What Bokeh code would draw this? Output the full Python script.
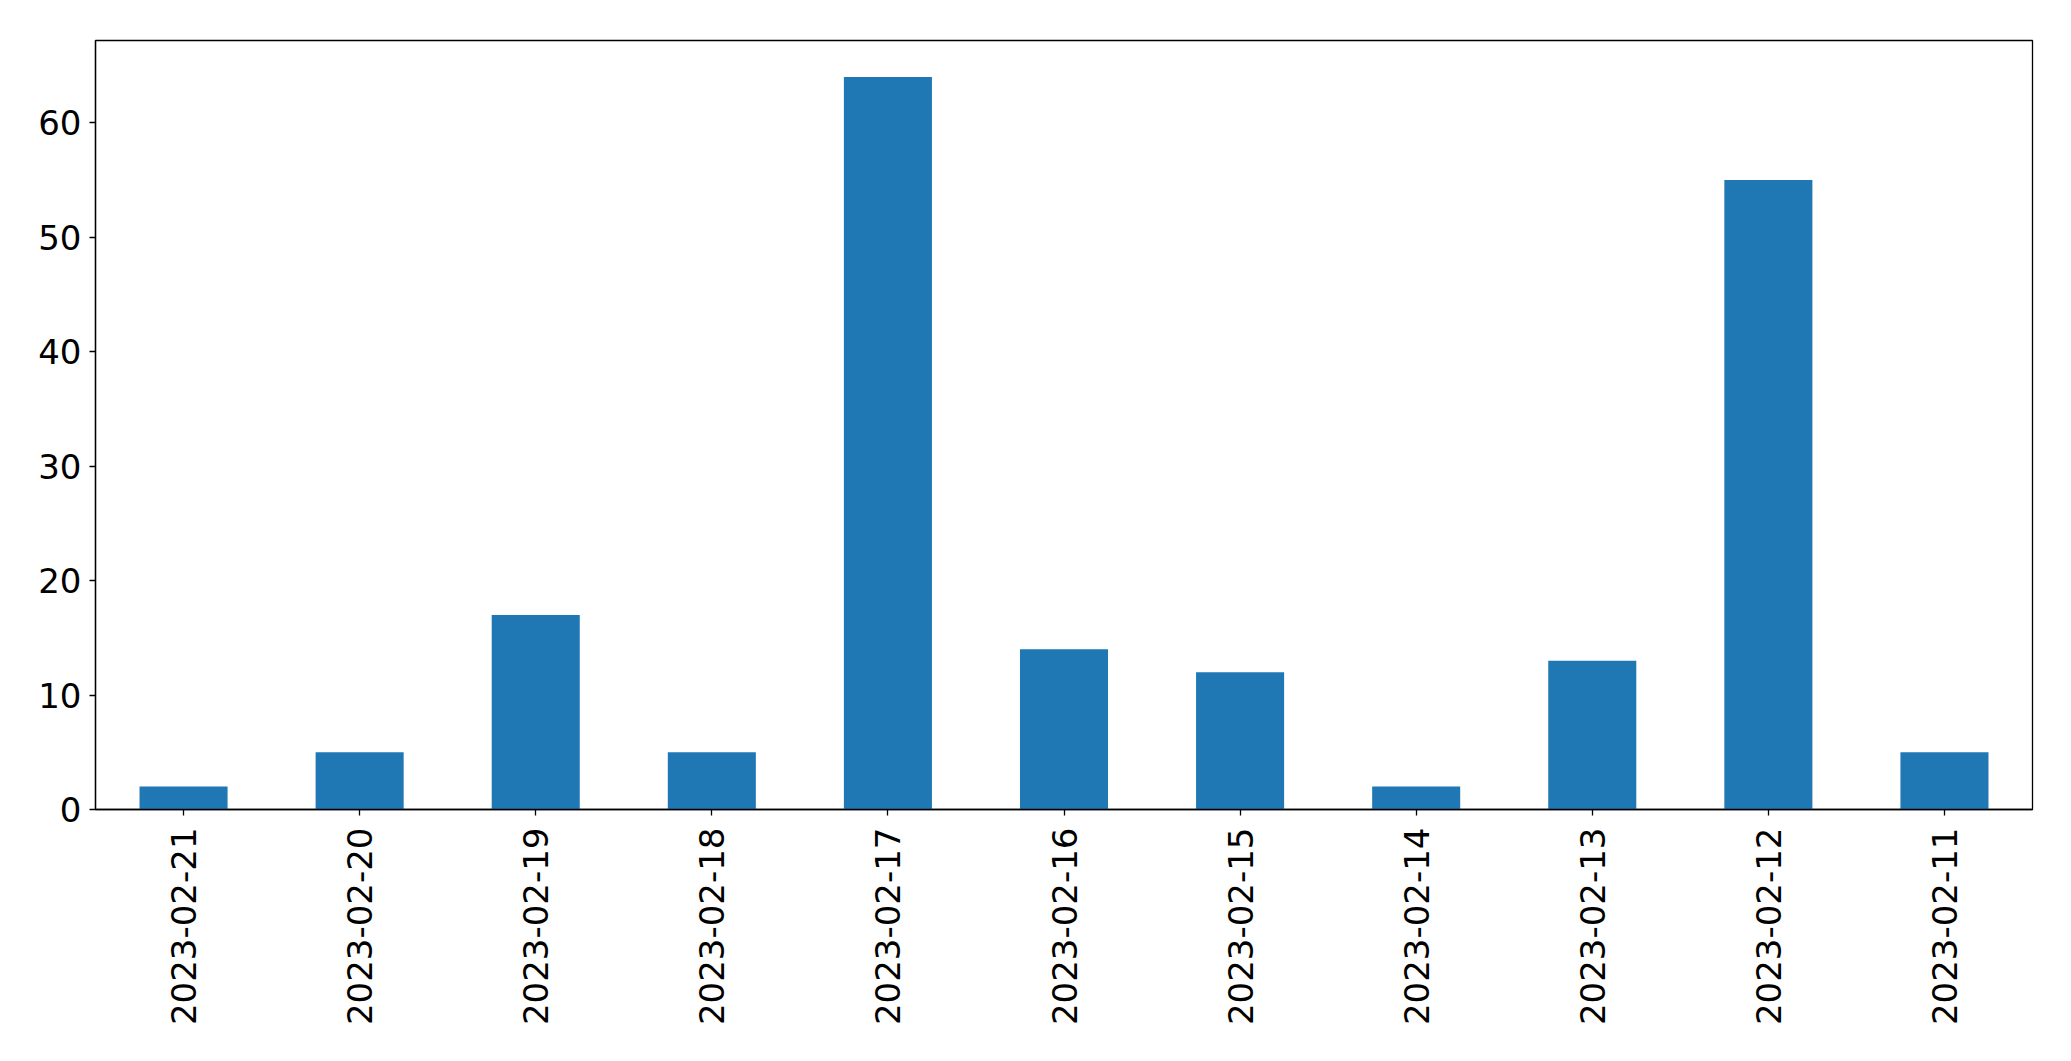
import math
from bokeh.plotting import figure
from bokeh.models import FactorRange, Range1d, FixedTicker
from bokeh.embed import file_html
from bokeh.resources import INLINE

dates = ["2023-02-21", "2023-02-20", "2023-02-19", "2023-02-18", "2023-02-17",
         "2023-02-16", "2023-02-15", "2023-02-14", "2023-02-13", "2023-02-12",
         "2023-02-11"]
counts = [2, 5, 17, 5, 64, 14, 12, 2, 13, 55, 5]
y_ticks = [0, 10, 20, 30, 40, 50, 60]

p = figure(
    x_range=FactorRange(factors=dates, range_padding=0),
    y_range=Range1d(0, max(counts) * 1.05),
    width=2063, height=1053,
    output_backend="svg", toolbar_location=None,
    min_border_left=95, min_border_top=40, min_border_right=31, min_border_bottom=244,
)
p.vbar(x=dates, top=counts, width=0.5, color="#1f77b4", line_color=None)

p.xgrid.visible = False
p.ygrid.visible = False
p.outline_line_color = "black"
p.outline_line_width = 1.3
p.outline_line_alpha = 1

for ax in (p.xaxis[0], p.yaxis[0]):
    ax.axis_line_color = "black"
    ax.axis_line_width = 1.3
    ax.major_tick_line_color = "black"
    ax.major_tick_line_width = 1.3
    ax.major_tick_out = 6
    ax.major_tick_in = 0
    ax.minor_tick_line_color = None
    ax.major_label_text_font = "DejaVu Sans"
    ax.major_label_text_font_size = "34px"
    ax.major_label_text_color = "black"

p.yaxis[0].ticker = FixedTicker(ticks=y_ticks)
p.yaxis[0].major_label_standoff = 8
p.xaxis[0].major_label_orientation = math.pi / 2
p.xaxis[0].major_label_standoff = 12

open("out.html", "w").write(file_html(p, INLINE))
